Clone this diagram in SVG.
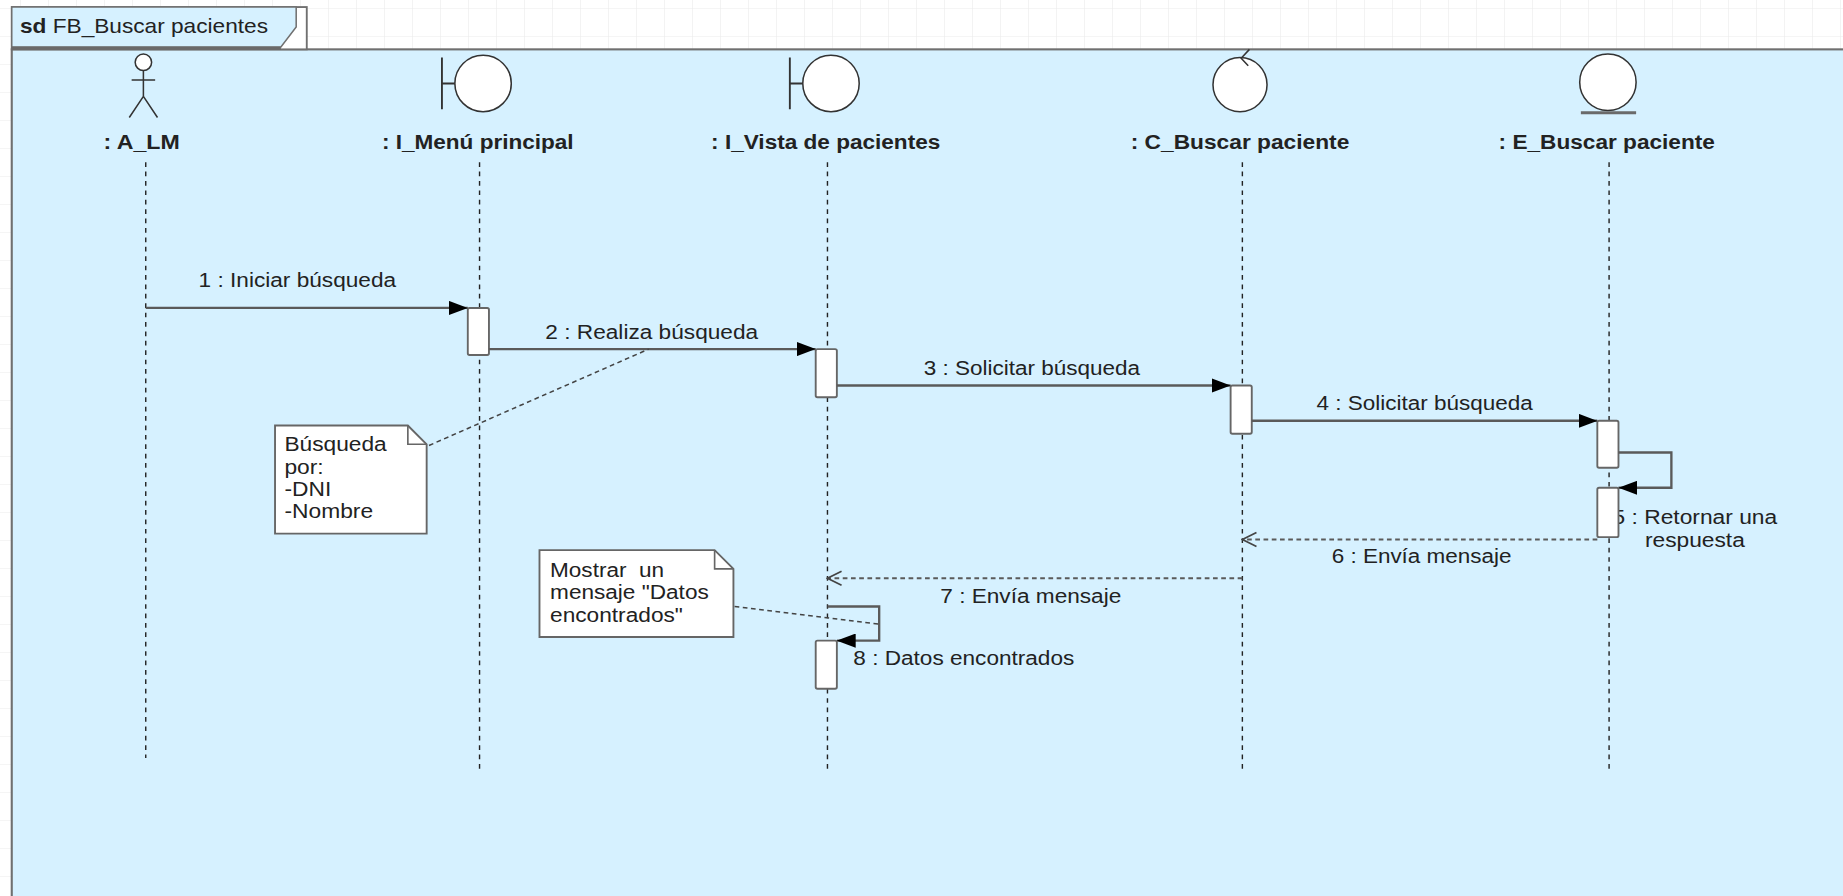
<svg xmlns="http://www.w3.org/2000/svg" width="1843" height="896" viewBox="0 0 1843 896">
<defs>
<pattern id="grid" patternUnits="userSpaceOnUse" x="20" y="8" width="28" height="28">
<path d="M0 0H28M0 0V28" fill="none" stroke="#ebebeb" stroke-width="1.2"/>
</pattern>
<marker id="fill" markerUnits="userSpaceOnUse" viewBox="0 0 16 12" markerWidth="16" markerHeight="12" refX="16" refY="6" orient="auto">
<path d="M0 0L16 6L0 12Z" fill="#000"/>
</marker>
<marker id="open" markerUnits="userSpaceOnUse" viewBox="0 0 14 14" markerWidth="14" markerHeight="14" refX="13" refY="7" orient="auto">
<path d="M1 1L13 7L1 13" fill="none" stroke="#444" stroke-width="1.5"/>
</marker>
<style>
.t{font-family:"Liberation Sans",Arial,sans-serif;fill:#222;}
.lbl{font-size:17px;font-weight:bold;text-anchor:middle;}
.msg{font-size:17px;text-anchor:middle;}
.left{font-size:17px;text-anchor:start;}
.life{stroke:#222;stroke-width:1.2;stroke-dasharray:4 4;fill:none;}
.act{fill:#fff;stroke:#666;stroke-width:1.6;}
.call{stroke:#5a5a5a;stroke-width:2;fill:none;marker-end:url(#fill);}
.ret{stroke:#5a5a5a;stroke-width:1.8;stroke-dasharray:4 3;fill:none;marker-end:url(#open);}
.icon{fill:#fff;stroke:#333;stroke-width:1.3;}
.nbox{fill:#fff;stroke:#666;stroke-width:1.6;}
.anch{stroke:#444;stroke-width:1.3;stroke-dasharray:4 3;fill:none;}
</style>
</defs>
<rect width="1843" height="896" fill="#fff"/>
<rect width="1843" height="896" fill="url(#grid)"/>
<g transform="scale(1.17537)">
<g id="frame">
<rect x="10" y="42" width="1600" height="800" fill="#d6f1ff" stroke="#707070" stroke-width="1.8"/>
<rect x="10" y="6" width="251" height="36" fill="#fff" stroke="#707070" stroke-width="1.6"/>
<polygon points="10,6 252,6 252,23 239,40 10,40" fill="#d6f1ff" stroke="#707070" stroke-width="1.3"/>
<line x1="10" y1="41" x2="239" y2="41" stroke="#6a6a6a" stroke-width="2.5"/>
<text class="t" x="17" y="28" font-size="16.5px" textLength="211" lengthAdjust="spacingAndGlyphs"><tspan font-weight="bold">sd</tspan> FB_Buscar pacientes</text>
</g>
<g id="A_LM">
<circle class="icon" cx="122" cy="53" r="7"/>
<path d="M122 60V82M112 68H132M122 82L110 100M122 82L134 100" stroke="#333" stroke-width="1.3" fill="none"/>
<text class="t lbl" x="120.5" y="127" textLength="65" lengthAdjust="spacingAndGlyphs">: A_LM</text>
<line class="life" x1="124" y1="138" x2="124" y2="645"/>
</g>
<g id="I_Menu">
<path d="M376 49V93M376 71H388" stroke="#333" stroke-width="1.6" fill="none"/>
<circle class="icon" cx="411" cy="71" r="24"/>
<text class="t lbl" x="406.5" y="127" textLength="163" lengthAdjust="spacingAndGlyphs">: I_Menú principal</text>
<line class="life" x1="408" y1="138" x2="408" y2="658"/>
<rect class="act" x="398" y="262" width="18" height="40" rx="1.5"/>
</g>
<g id="I_Vista">
<path d="M672 49V93M672 71H684" stroke="#333" stroke-width="1.6" fill="none"/>
<circle class="icon" cx="707" cy="71" r="24"/>
<text class="t lbl" x="702.5" y="127" textLength="195" lengthAdjust="spacingAndGlyphs">: I_Vista de pacientes</text>
<line class="life" x1="704" y1="138" x2="704" y2="658"/>
<rect class="act" x="694" y="297" width="18" height="41" rx="1.5"/>
<rect class="act" x="694" y="545" width="18" height="41" rx="1.5"/>
</g>
<g id="C_Buscar">
<circle class="icon" cx="1055" cy="72" r="23"/>
<path d="M1063 42L1056 49.5L1062 56" stroke="#333" stroke-width="1.3" fill="none"/>
<text class="t lbl" x="1055" y="127" textLength="186" lengthAdjust="spacingAndGlyphs">: C_Buscar paciente</text>
<line class="life" x1="1057" y1="138" x2="1057" y2="658"/>
<rect class="act" x="1047" y="328" width="18" height="41" rx="1.5"/>
</g>
<g id="E_Buscar">
<circle class="icon" cx="1368" cy="70" r="24"/>
<line x1="1345" y1="96" x2="1392" y2="96" stroke="#6a6a6a" stroke-width="2.5"/>
<text class="t lbl" x="1367" y="127" textLength="184" lengthAdjust="spacingAndGlyphs">: E_Buscar paciente</text>
<line class="life" x1="1369" y1="138" x2="1369" y2="658"/>
<text class="t msg" x="1442" y="446" textLength="140" lengthAdjust="spacingAndGlyphs">5 : Retornar una</text>
<text class="t msg" x="1442" y="465" textLength="85" lengthAdjust="spacingAndGlyphs">respuesta</text>
<rect class="act" x="1359" y="358" width="18" height="40" rx="1.5"/>
<rect class="act" x="1359" y="415" width="18" height="42" rx="1.5"/>
</g>
<g id="note1">
<path class="nbox" d="M234 362H347L363 378V454H234Z"/>
<path d="M347 362V378H363" fill="none" stroke="#666" stroke-width="1.4"/>
<text class="t left" x="242" y="384" textLength="87" lengthAdjust="spacingAndGlyphs">Búsqueda</text>
<text class="t left" x="242" y="403" textLength="33.4" lengthAdjust="spacingAndGlyphs">por:</text>
<text class="t left" x="242" y="422" textLength="39.8" lengthAdjust="spacingAndGlyphs">-DNI</text>
<text class="t left" x="242" y="441" textLength="75.4" lengthAdjust="spacingAndGlyphs">-Nombre</text>
</g>
<g id="note2">
<path class="nbox" d="M459 468H608L624 484V542H459Z"/>
<path d="M608 468V484H624" fill="none" stroke="#666" stroke-width="1.4"/>
<text class="t left" x="468" y="491" xml:space="preserve" textLength="97" lengthAdjust="spacingAndGlyphs">Mostrar  un</text>
<text class="t left" x="468" y="510" textLength="135" lengthAdjust="spacingAndGlyphs">mensaje "Datos</text>
<text class="t left" x="468" y="529" textLength="113" lengthAdjust="spacingAndGlyphs">encontrados"</text>
</g>
<g id="connectors">
<line class="call" x1="124" y1="262" x2="398" y2="262"/>
<line class="call" x1="416" y1="297" x2="694" y2="297"/>
<line class="call" x1="712" y1="328" x2="1047" y2="328"/>
<line class="call" x1="1065" y1="358" x2="1359" y2="358"/>
<path class="call" d="M1377 385H1422V415H1377"/>
<line class="ret" x1="1359" y1="459" x2="1057" y2="459"/>
<line class="ret" x1="1057" y1="492" x2="704" y2="492"/>
<path class="call" d="M704 516H748V545H712"/>
<line class="anch" x1="365" y1="379" x2="552" y2="297"/>
<line class="anch" x1="625" y1="516" x2="748" y2="531"/>
<text class="t msg" x="253" y="244" textLength="168" lengthAdjust="spacingAndGlyphs">1 : Iniciar búsqueda</text>
<text class="t msg" x="554.5" y="288" textLength="181" lengthAdjust="spacingAndGlyphs">2 : Realiza búsqueda</text>
<text class="t msg" x="878" y="319" textLength="184" lengthAdjust="spacingAndGlyphs">3 : Solicitar búsqueda</text>
<text class="t msg" x="1212" y="349" textLength="184" lengthAdjust="spacingAndGlyphs">4 : Solicitar búsqueda</text>
<text class="t msg" x="1209.5" y="479" textLength="153" lengthAdjust="spacingAndGlyphs">6 : Envía mensaje</text>
<text class="t msg" x="877" y="513" textLength="154" lengthAdjust="spacingAndGlyphs">7 : Envía mensaje</text>
<text class="t left" x="726" y="566" textLength="188" lengthAdjust="spacingAndGlyphs">8 : Datos encontrados</text>
</g>
</g>
</svg>
